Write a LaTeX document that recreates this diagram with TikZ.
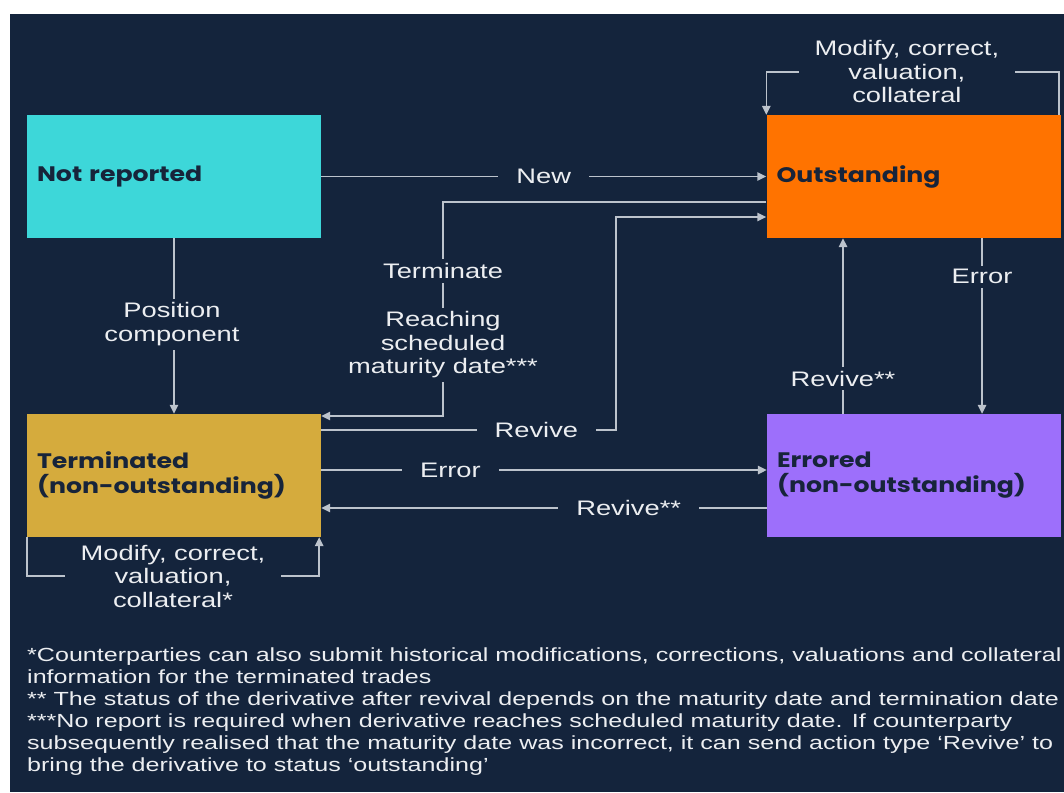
\documentclass[tikz,border=0pt]{standalone}
\usepackage{fontspec}
\setmainfont{Liberation Sans}[FakeStretch=1.3]
\newfontfamily\lblfont{Liberation Sans}[FakeStretch=1.3]
\newfontfamily\footfont{Liberation Sans}[FakeStretch=1.32]
\newfontfamily\boxfont{Poppins}[FakeStretch=1.2]
\usetikzlibrary{arrows.meta,calc}
\definecolor{bg}{HTML}{14243C}
\definecolor{cyanbox}{HTML}{3DD7D9}
\definecolor{orangebox}{HTML}{FF7300}
\definecolor{goldbox}{HTML}{D5AB3D}
\definecolor{purplebox}{HTML}{9D6FFB}
\definecolor{boxtxt}{HTML}{17243A}
\definecolor{linecol}{HTML}{BCC3CC}
\definecolor{lbltxt}{HTML}{ECEEF1}
\tikzset{
  statebox/.style={draw=none, minimum width=294pt, minimum height=123pt, text width=274pt,
    inner xsep=10pt, inner ysep=0pt, align=left, text=boxtxt,
    font=\boxfont\bfseries\fontsize{21}{25}\selectfont},
  conn/.style={draw=linecol, line width=1.5pt, -{Triangle[length=9pt,width=8.5pt]}},
  lbl/.style={fill=bg, text=lbltxt, inner xsep=18pt, inner ysep=4pt, align=center,
    font=\lblfont\fontsize{21}{23.5}\selectfont},
  foot/.style={text=lbltxt, inner sep=0pt, align=left, anchor=north west,
    font=\footfont\fontsize{19}{22}\selectfont}
}
\begin{document}
\begin{tikzpicture}[x=1pt,y=-1pt]
\useasboundingbox (0,0) rectangle (1064,792);
\fill[white] (0,0) rectangle (1064,792);
\fill[bg] (10,14) rectangle (1064,792);

\node[statebox, fill=cyanbox] (nr) at (174,176.5) {\raisebox{-2.5pt}{Not reported}};
\node[statebox, fill=orangebox] (out) at (913.5,176.5) {\raisebox{-2.5pt}{Outstanding}};
\node[statebox, fill=goldbox] (term) at (174,475.5) {\raisebox{-2.5pt}{Terminated}\\\raisebox{-2.5pt}{(non-outstanding)}};
\node[statebox, fill=purplebox] (err) at (914,475.5) {\raisebox{-2.5pt}{Errored}\\\raisebox{-2.5pt}{(non-outstanding)}};

% New
\draw[conn] (nr.east) -- node[lbl]{New} (out.west);
% Position component
\draw[conn] (nr.south) -- node[lbl, pos=0.49, xshift=-2pt]{Position\\component} (term.north);
% Terminate / maturity
\coordinate (tc) at (443,416);
\draw[conn] ([yshift=-25.5pt]out.west) -| (tc) -- (tc -| term.east);
\node[lbl] (lterm) at (443,271) {Terminate};
\node[lbl] (lmat) at (443,345) {Reaching\\scheduled\\maturity date***};
% Revive term -> out
\coordinate (rc) at (616,430);
\draw[conn] (rc -| term.east) -- node[lbl, pos=0.73]{Revive} (rc) |- ([yshift=-40.5pt]out.west);
% Error term -> err
\draw[conn] ([yshift=5.5pt]term.east) -- node[lbl, pos=0.29]{Error} ([yshift=5.5pt]err.west);
% Revive** err -> term
\draw[conn] ([yshift=-32.5pt]err.west) -- node[lbl, pos=0.31]{Revive**} ([yshift=-32.5pt]term.east);
% Error out -> err
\draw[conn] ([xshift=68.5pt]out.south) -- node[lbl, pos=0.22]{Error} ([xshift=68pt]err.north);
% Revive** err -> out
\draw[conn] ([xshift=-71pt]err.north) -- node[lbl, pos=0.2]{Revive**} ([xshift=-70.5pt]out.south);
% Outstanding loop
\draw[conn] ([xshift=-1.5pt]out.north east) -- ([xshift=-1.5pt,yshift=43pt]out.north east)
  -- node[lbl, inner xsep=16pt, pos=0.52]{Modify, correct,\\valuation,\\collateral} ([yshift=43pt]out.north west) -- (out.north west);
% Terminated loop
\draw[conn] (term.south west) -- ([yshift=-39pt]term.south west)
  -- node[lbl, inner xsep=16pt]{Modify, correct,\\valuation,\\collateral*} ([xshift=-2pt,yshift=-39pt]term.south east) -- ([xshift=-2pt]term.south east);

% Footnotes
\node[foot] (fn) at (27,648) {*Counterparties can also submit historical modifications, corrections, valuations and collateral\\
information for the terminated trades\\
** The status of the derivative after revival depends on the maturity date and termination date\\
***No report is required when derivative reaches scheduled maturity date. If counterparty\\
subsequently realised that the maturity date was incorrect, it can send action type ‘Revive’ to\\
bring the derivative to status ‘outstanding’};
\end{tikzpicture}
\end{document}
